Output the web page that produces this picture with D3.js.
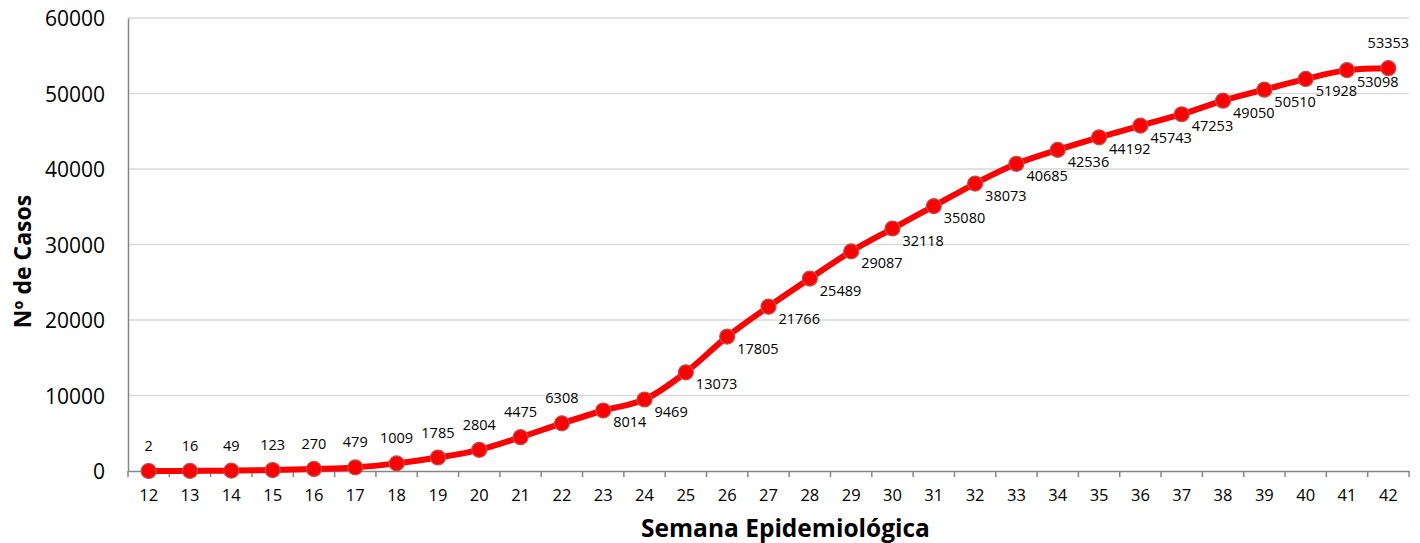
<!DOCTYPE html>
<html>
<head>
<meta charset="utf-8">
<script src="https://cdn.jsdelivr.net/npm/d3@7"></script>
<style>
  body { margin: 0; background: #fff; }
  svg text { font-family: "Open Sans", "Noto Sans", sans-serif; fill: #000; }
</style>
</head>
<body>
<div id="chart"></div>
<script>
// weeks and cumulative cases
var weeks = [12,13,14,15,16,17,18,19,20,21,22,23,24,25,26,27,28,29,30,31,32,33,34,35,36,37,38,39,40,41,42];
var casos = [2,16,49,123,270,479,1009,1785,2804,4475,6308,8014,9469,13073,17805,21766,25489,29087,32118,35080,38073,40685,42536,44192,45743,47253,49050,50510,51928,53098,53353];
var yTicks = [0,10000,20000,30000,40000,50000,60000];

var W = 1420, H = 543;
var margin = { top: 18, right: 11, bottom: 72, left: 128 },
    width = W - margin.left - margin.right,
    height = H - margin.top - margin.bottom;

var svg = d3.select("#chart").append("svg")
    .attr("width", W)
    .attr("height", H)
  .append("g")
    .attr("transform", "translate(" + margin.left + "," + margin.top + ")");

var x = d3.scaleBand()
    .domain(weeks)
    .range([0, width]);

var y = d3.scaleLinear()
    .domain([0, 60000])
    .range([height, 0]);

var cx = function(d, i) { return x(weeks[i]) + x.bandwidth() / 2; };

// gridlines
svg.append("g")
    .selectAll("line")
    .data(yTicks.filter(d => d > 0))
    .enter().append("line")
    .attr("x1", 0).attr("x2", width)
    .attr("y1", d => y(d)).attr("y2", d => y(d))
    .style("stroke", "#d9d9d9")
    .style("stroke-width", "1.5px");

// y axis
var yAxis = svg.append("g")
    .call(d3.axisLeft(y).tickValues(yTicks).tickFormat(d3.format("d")).tickSize(0).tickPadding(23));
yAxis.select(".domain").style("stroke", "#868686").style("stroke-width", "1.5px");
yAxis.selectAll("text").style("font-size", "21px").attr("dy", "0.36em");

// x axis with ticks at band edges
var xAxis = svg.append("g")
    .attr("transform", "translate(0," + height + ")")
    .call(d3.axisBottom(x).tickSize(0).tickPadding(18));
xAxis.select(".domain").style("stroke", "#868686").style("stroke-width", "1.5px");
xAxis.selectAll("text").style("font-size", "16.5px");

svg.append("g")
    .selectAll("line")
    .data(weeks.concat([null]))
    .enter().append("line")
    .attr("x1", (d, i) => i * x.step()).attr("x2", (d, i) => i * x.step())
    .attr("y1", height).attr("y2", height + 6)
    .style("stroke", "#868686")
    .style("stroke-width", "1.5px");

// axis titles
svg.append("text")
    .attr("x", width / 2 + 17)
    .attr("y", height + 66)
    .attr("text-anchor", "middle")
    .style("font-size", "24.5px")
    .style("font-weight", "bold")
    .text("Semana Epidemiológica");

svg.append("text")
    .attr("transform", "translate(" + (-97) + "," + (height / 2 + 17) + ") rotate(-90)")
    .attr("text-anchor", "middle")
    .style("font-size", "23px")
    .style("font-weight", "bold")
    .text("Nº de Casos");

// line
var line = d3.line()
    .x(cx)
    .y(d => y(d))
    .curve(d3.curveCatmullRom.alpha(0.5));

svg.append("path")
    .datum(casos)
    .attr("d", line)
    .style("fill", "none")
    .style("stroke", "#ff0000")
    .style("stroke-width", "6px");

svg.selectAll(".pt")
    .data(casos)
    .enter().append("circle")
    .attr("class", "pt")
    .attr("cx", cx)
    .attr("cy", d => y(d))
    .attr("r", 7.5)
    .style("fill", "#ff0000")
    .style("stroke", "#c0504d")
    .style("stroke-width", "1.2px");

// data labels: above for the early weeks and the last one, below-right elsewhere
var n = casos.length;
var isAbove = function(i) { return i <= 10 || i === n - 1; };
svg.selectAll(".lbl")
    .data(casos)
    .enter().append("text")
    .attr("class", "lbl")
    .attr("x", (d, i) => isAbove(i) ? cx(d, i) : cx(d, i) + 10)
    .attr("y", (d, i) => isAbove(i) ? y(d) - 20 : y(d) + 17)
    .attr("text-anchor", (d, i) => isAbove(i) ? "middle" : "start")
    .style("font-size", "14.5px")
    .text(d => d);
</script>
</body>
</html>
